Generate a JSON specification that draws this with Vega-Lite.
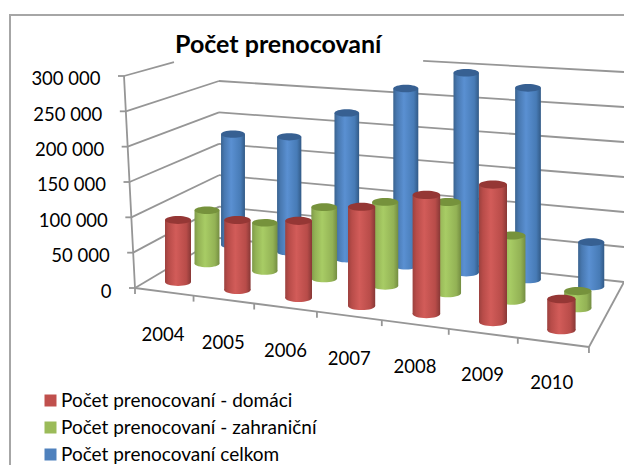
{"$schema":"https://vega.github.io/schema/vega-lite/v6.json","autosize":{"type":"none"},"padding":{"left":10,"top":15,"right":-2,"bottom":-2},"width":616,"height":452,"background":"white","config":{"view":{"stroke":"#a6a6a6","strokeWidth":2},"font":"Lato"},"title":{"text":"Počet prenocovaní","font":"Lato","fontSize":25,"fontWeight":"bold","color":"black","anchor":"start","frame":"group","dx":165,"dy":43,"offset":0},"data":{"values":[{"year":2004,"series":"Počet prenocovaní - domáci","value":89500},{"year":2005,"series":"Počet prenocovaní - domáci","value":99000},{"year":2006,"series":"Počet prenocovaní - domáci","value":107000},{"year":2007,"series":"Počet prenocovaní - domáci","value":135000},{"year":2008,"series":"Počet prenocovaní - domáci","value":159000},{"year":2009,"series":"Počet prenocovaní - domáci","value":180000},{"year":2010,"series":"Počet prenocovaní - domáci","value":40000},{"year":2004,"series":"Počet prenocovaní - zahraniční","value":80000},{"year":2005,"series":"Počet prenocovaní - zahraniční","value":71000},{"year":2006,"series":"Počet prenocovaní - zahraniční","value":103000},{"year":2007,"series":"Počet prenocovaní - zahraniční","value":119000},{"year":2008,"series":"Počet prenocovaní - zahraniční","value":127000},{"year":2009,"series":"Počet prenocovaní - zahraniční","value":89000},{"year":2010,"series":"Počet prenocovaní - zahraniční","value":23000},{"year":2004,"series":"Počet prenocovaní celkom","value":174000},{"year":2005,"series":"Počet prenocovaní celkom","value":177000},{"year":2006,"series":"Počet prenocovaní celkom","value":220000},{"year":2007,"series":"Počet prenocovaní celkom","value":262000},{"year":2008,"series":"Počet prenocovaní celkom","value":290000},{"year":2009,"series":"Počet prenocovaní celkom","value":273000},{"year":2010,"series":"Počet prenocovaní celkom","value":62000}]},"transform":[{"calculate":"datum.year-2004","as":"i"},{"calculate":"indexof(['Počet prenocovaní - domáci','Počet prenocovaní - zahraniční','Počet prenocovaní celkom'],datum.series)","as":"s"},{"calculate":"178+30.5*datum.s-1.5*datum.s*datum.s+datum.i*(58.5-1.5*datum.s)+datum.i*datum.i*(0.9-0.1*datum.s)","as":"cx"},{"calculate":"(13+0.2*datum.i)*(1-0.04*datum.s)","as":"r"},{"calculate":"datum.cx-datum.r","as":"x1"},{"calculate":"datum.cx+datum.r","as":"x2"},{"calculate":"4*datum.r*datum.r","as":"sz"},{"calculate":"(288-(282-18.5*datum.s+datum.i*(8-0.55*datum.s)))*1415.09","as":"b"},{"calculate":"datum.b+datum.value*(0.98+0.02*datum.i)*(1-0.04*datum.s)","as":"t"}],"layer":[
{"data":{"values":[{"v":0},{"v":50000},{"v":100000},{"v":150000},{"v":200000},{"v":250000},{"v":300000}]},"transform":[{"calculate":"135-datum.v*11/300000","as":"ax"},{"calculate":"datum.v==300000?0.526:1","as":"f"},{"calculate":"datum.ax+(219-datum.ax)*datum.f","as":"x2"},{"calculate":"datum.v+((288-(238-datum.v*0.000628))*1415.09-datum.v)*datum.f","as":"y2"}],"mark":{"type":"rule","stroke":"#969696","strokeWidth":1.8},"encoding":{"x":{"field":"ax","type":"quantitative","scale":{"domain":[10,626],"range":[0,616]},"axis":null},"x2":{"field":"x2"},"y":{"field":"v","type":"quantitative","title":null,"scale":{"domain":[-253301,386320],"range":[452,0]},"axis":{"title":null,"grid":false,"domain":false,"ticks":false,"offset":-104,"values":[0,50000,100000,150000,200000,250000,300000],"labelFont":"Lato","labelFontSize":18.5,"labelColor":"black","labelOffset":3,"labelPadding":{"expr":"3+11*datum.value/300000"},"labelExpr":"replace(format(datum.value,',d'),',',' ')"}},"y2":{"field":"y2"}}},
{"data":{"values":[{"v":0},{"v":50000},{"v":100000},{"v":150000},{"v":200000},{"v":250000},{"v":300000}]},"transform":[{"calculate":"(288-(238-datum.v*0.000628))*1415.09","as":"yb"},{"calculate":"(288-(282-datum.v*0.0007))*1415.09","as":"yr"},{"calculate":"datum.v==300000?0.504:0","as":"f"},{"calculate":"219+405*datum.f","as":"x1"},{"calculate":"datum.yb+(datum.yr-datum.yb)*datum.f","as":"y1"},{"calculate":"624","as":"x2"}],"mark":{"type":"rule","stroke":"#969696","strokeWidth":1.8},"encoding":{"x":{"field":"x1","type":"quantitative","scale":{"domain":[10,626],"range":[0,616]},"axis":null},"x2":{"field":"x2"},"y":{"field":"y1","type":"quantitative","title":null,"scale":{"domain":[-253301,386320],"range":[452,0]}},"y2":{"field":"yr"}}},
{"data":{"values":[{"v":0},{"v":50000},{"v":100000},{"v":150000},{"v":200000},{"v":250000},{"v":300000}]},"transform":[{"calculate":"135-datum.v*11/300000","as":"ax"}],"mark":{"type":"line","stroke":"#969696","strokeWidth":1.8},"encoding":{"x":{"field":"ax","type":"quantitative","scale":{"domain":[10,626],"range":[0,616]},"axis":null},"y":{"field":"v","type":"quantitative","title":null,"scale":{"domain":[-253301,386320],"range":[452,0]}},"order":{"field":"v"}}},
{"data":{"values":[{"v":0},{"v":50000},{"v":100000},{"v":150000},{"v":200000},{"v":250000},{"v":300000}]},"transform":[{"calculate":"135-datum.v*11/300000","as":"ax"},{"calculate":"datum.ax-6","as":"ax0"}],"mark":{"type":"rule","stroke":"#969696","strokeWidth":1.8},"encoding":{"x":{"field":"ax0","type":"quantitative","scale":{"domain":[10,626],"range":[0,616]},"axis":null},"x2":{"field":"ax"},"y":{"field":"v","type":"quantitative","title":null,"scale":{"domain":[-253301,386320],"range":[452,0]}}}},
{"data":{"values":[{"b":0},{"b":1},{"b":2},{"b":3},{"b":4},{"b":5},{"b":6},{"b":7}]},"transform":[{"calculate":"135+57.5*datum.b+1.05*datum.b*datum.b","as":"tx"},{"calculate":"(288-(288+(datum.tx-135)*0.13))*1415.09","as":"ty"}],"mark":{"type":"line","stroke":"#969696","strokeWidth":1.8},"encoding":{"x":{"field":"tx","type":"quantitative","scale":{"domain":[10,626],"range":[0,616]},"axis":null},"y":{"field":"ty","type":"quantitative","title":null,"scale":{"domain":[-253301,386320],"range":[452,0]}},"order":{"field":"b"}}},
{"data":{"values":[{"b":0},{"b":1},{"b":2},{"b":3},{"b":4},{"b":5},{"b":6},{"b":7}]},"transform":[{"calculate":"135+57.5*datum.b+1.05*datum.b*datum.b","as":"tx"},{"calculate":"(288-(288+(datum.tx-135)*0.13))*1415.09","as":"ty"},{"calculate":"datum.ty-6*1415.09","as":"ty2"}],"mark":{"type":"rule","stroke":"#969696","strokeWidth":1.8},"encoding":{"x":{"field":"tx","type":"quantitative","scale":{"domain":[10,626],"range":[0,616]},"axis":null},"y":{"field":"ty","type":"quantitative","title":null,"scale":{"domain":[-253301,386320],"range":[452,0]}},"y2":{"field":"ty2"}}},
{"data":{"values":[{"b":7}]},"transform":[{"calculate":"135+57.5*datum.b+1.05*datum.b*datum.b","as":"tx"},{"calculate":"(288-(288+(datum.tx-135)*0.13))*1415.09","as":"ty"},{"calculate":"624","as":"ex"},{"calculate":"6*1415.09","as":"ey"}],"mark":{"type":"rule","stroke":"#969696","strokeWidth":1.8},"encoding":{"x":{"field":"tx","type":"quantitative","scale":{"domain":[10,626],"range":[0,616]},"axis":null},"x2":{"field":"ex"},"y":{"field":"ty","type":"quantitative","title":null,"scale":{"domain":[-253301,386320],"range":[452,0]}},"y2":{"field":"ey"}}},
{"mark":{"type":"point","filled":true,"opacity":0},"encoding":{"x":{"field":"cx","type":"quantitative","scale":{"domain":[10,626],"range":[0,616]},"axis":null},"y":{"field":"b","type":"quantitative","title":null,"scale":{"domain":[-253301,386320],"range":[452,0]}},"color":{"field":"series","type":"nominal","scale":{"domain":["Počet prenocovaní - domáci","Počet prenocovaní - zahraniční","Počet prenocovaní celkom"],"range":["#C0504D","#9BBB59","#4F81BD"]},"legend":{"title":null,"orient":"none","legendX":31,"legendY":376,"symbolType":"square","symbolSize":144,"symbolOpacity":1,"symbolStrokeWidth":0,"labelFont":"Lato","labelFontSize":19,"labelColor":"black","rowPadding":7,"labelOffset":1,"labelLimit":400}}}},
{"transform":[{"filter":"datum.s==2"}],"layer":[
{"mark":{"type":"point","filled":true,"opacity":1,"strokeWidth":0,"shape":"M-1,0A1,0.3,0,1,1,1,0A1,0.3,0,1,1,-1,0Z","fill":{"gradient":"linear","x1":0,"y1":0,"x2":1,"y2":0,"stops":[{"offset":0,"color":"#3a638f"},{"offset":0.14,"color":"#4878b0"},{"offset":0.42,"color":"#5a90d2"},{"offset":0.82,"color":"#477bb6"},{"offset":1,"color":"#325a86"}]}},"encoding":{"x":{"field":"cx","type":"quantitative","scale":{"domain":[10,626],"range":[0,616]},"axis":null},"y":{"field":"b","type":"quantitative","title":null,"scale":{"domain":[-253301,386320],"range":[452,0]}},"size":{"field":"sz","type":"quantitative","scale":null}}},
{"mark":{"type":"rect","fill":{"gradient":"linear","x1":0,"y1":0,"x2":1,"y2":0,"stops":[{"offset":0,"color":"#3a638f"},{"offset":0.14,"color":"#4878b0"},{"offset":0.42,"color":"#5a90d2"},{"offset":0.82,"color":"#477bb6"},{"offset":1,"color":"#325a86"}]}},"encoding":{"x":{"field":"x1","type":"quantitative","scale":{"domain":[10,626],"range":[0,616]},"axis":null},"x2":{"field":"x2"},"y":{"field":"b","type":"quantitative","title":null,"scale":{"domain":[-253301,386320],"range":[452,0]}},"y2":{"field":"t"}}},
{"mark":{"type":"point","filled":true,"opacity":1,"strokeWidth":0,"color":"#376092","shape":"M-1,0A1,0.3,0,1,1,1,0A1,0.3,0,1,1,-1,0Z"},"encoding":{"x":{"field":"cx","type":"quantitative","scale":{"domain":[10,626],"range":[0,616]},"axis":null},"y":{"field":"t","type":"quantitative","title":null,"scale":{"domain":[-253301,386320],"range":[452,0]}},"size":{"field":"sz","type":"quantitative","scale":null}}}]},
{"transform":[{"filter":"datum.s==1"}],"layer":[
{"mark":{"type":"point","filled":true,"opacity":1,"strokeWidth":0,"shape":"M-1,0A1,0.3,0,1,1,1,0A1,0.3,0,1,1,-1,0Z","fill":{"gradient":"linear","x1":0,"y1":0,"x2":1,"y2":0,"stops":[{"offset":0,"color":"#7f9a49"},{"offset":0.14,"color":"#93b255"},{"offset":0.42,"color":"#a8cc65"},{"offset":0.82,"color":"#93b255"},{"offset":1,"color":"#748d42"}]}},"encoding":{"x":{"field":"cx","type":"quantitative","scale":{"domain":[10,626],"range":[0,616]},"axis":null},"y":{"field":"b","type":"quantitative","title":null,"scale":{"domain":[-253301,386320],"range":[452,0]}},"size":{"field":"sz","type":"quantitative","scale":null}}},
{"mark":{"type":"rect","fill":{"gradient":"linear","x1":0,"y1":0,"x2":1,"y2":0,"stops":[{"offset":0,"color":"#7f9a49"},{"offset":0.14,"color":"#93b255"},{"offset":0.42,"color":"#a8cc65"},{"offset":0.82,"color":"#93b255"},{"offset":1,"color":"#748d42"}]}},"encoding":{"x":{"field":"x1","type":"quantitative","scale":{"domain":[10,626],"range":[0,616]},"axis":null},"x2":{"field":"x2"},"y":{"field":"b","type":"quantitative","title":null,"scale":{"domain":[-253301,386320],"range":[452,0]}},"y2":{"field":"t"}}},
{"mark":{"type":"point","filled":true,"opacity":1,"strokeWidth":0,"color":"#76923C","shape":"M-1,0A1,0.3,0,1,1,1,0A1,0.3,0,1,1,-1,0Z"},"encoding":{"x":{"field":"cx","type":"quantitative","scale":{"domain":[10,626],"range":[0,616]},"axis":null},"y":{"field":"t","type":"quantitative","title":null,"scale":{"domain":[-253301,386320],"range":[452,0]}},"size":{"field":"sz","type":"quantitative","scale":null}}}]},
{"transform":[{"filter":"datum.s==0"}],"layer":[
{"mark":{"type":"point","filled":true,"opacity":1,"strokeWidth":0,"shape":"M-1,0A1,0.3,0,1,1,1,0A1,0.3,0,1,1,-1,0Z","fill":{"gradient":"linear","x1":0,"y1":0,"x2":1,"y2":0,"stops":[{"offset":0,"color":"#9c413e"},{"offset":0.14,"color":"#b84c49"},{"offset":0.42,"color":"#d25c59"},{"offset":0.82,"color":"#b84c49"},{"offset":1,"color":"#883836"}]}},"encoding":{"x":{"field":"cx","type":"quantitative","scale":{"domain":[10,626],"range":[0,616]},"axis":null},"y":{"field":"b","type":"quantitative","title":null,"scale":{"domain":[-253301,386320],"range":[452,0]}},"size":{"field":"sz","type":"quantitative","scale":null}}},
{"mark":{"type":"rect","fill":{"gradient":"linear","x1":0,"y1":0,"x2":1,"y2":0,"stops":[{"offset":0,"color":"#9c413e"},{"offset":0.14,"color":"#b84c49"},{"offset":0.42,"color":"#d25c59"},{"offset":0.82,"color":"#b84c49"},{"offset":1,"color":"#883836"}]}},"encoding":{"x":{"field":"x1","type":"quantitative","scale":{"domain":[10,626],"range":[0,616]},"axis":null},"x2":{"field":"x2"},"y":{"field":"b","type":"quantitative","title":null,"scale":{"domain":[-253301,386320],"range":[452,0]}},"y2":{"field":"t"}}},
{"mark":{"type":"point","filled":true,"opacity":1,"strokeWidth":0,"color":"#953735","shape":"M-1,0A1,0.3,0,1,1,1,0A1,0.3,0,1,1,-1,0Z"},"encoding":{"x":{"field":"cx","type":"quantitative","scale":{"domain":[10,626],"range":[0,616]},"axis":null},"y":{"field":"t","type":"quantitative","title":null,"scale":{"domain":[-253301,386320],"range":[452,0]}},"size":{"field":"sz","type":"quantitative","scale":null}}},
{"transform":[{"calculate":"163+59.4*datum.i+0.9*datum.i*datum.i","as":"lx"},{"calculate":"(288-(335+8*datum.i))*1415.09","as":"ly"}],"mark":{"type":"text","font":"Lato","fontSize":18.5,"color":"black","align":"center","baseline":"middle"},"encoding":{"x":{"field":"lx","type":"quantitative","scale":{"domain":[10,626],"range":[0,616]},"axis":null},"y":{"field":"ly","type":"quantitative","title":null,"scale":{"domain":[-253301,386320],"range":[452,0]}},"text":{"field":"year","type":"nominal"}}}]}
]}
